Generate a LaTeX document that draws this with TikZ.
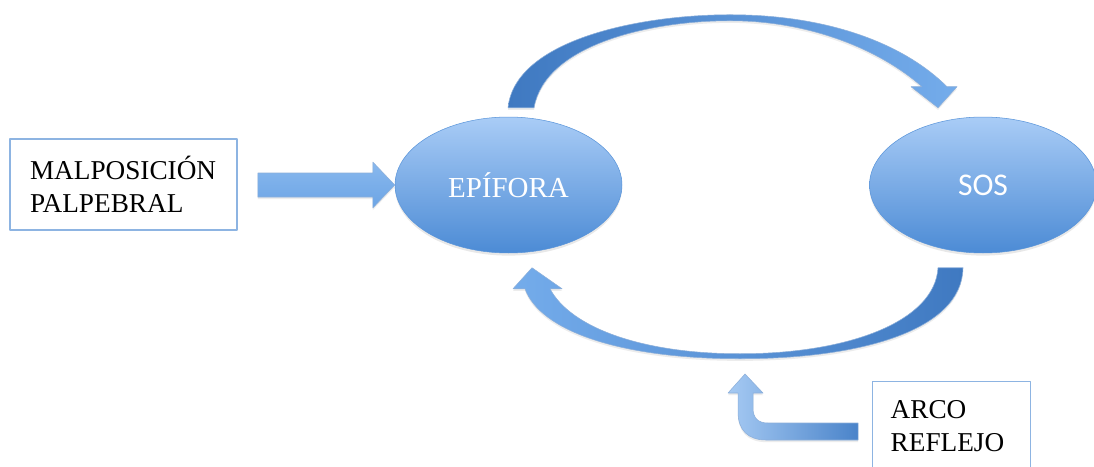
\documentclass[tikz,border=0pt]{standalone}
\usepackage{fontspec}
\setmainfont{Liberation Serif}
\newfontfamily\ovalsans{Carlito}
\usepackage{tikz}
\usetikzlibrary{calc,shapes.geometric,shadows}
\definecolor{ovaltop}{HTML}{A9CCF6}
\definecolor{ovalbottom}{HTML}{4C8BD5}
\definecolor{arrowdark}{HTML}{3F79C1}
\definecolor{arrowlight}{HTML}{74ACEB}
\definecolor{arrowpale}{HTML}{A6CAF3}
\definecolor{boxline}{HTML}{8DB4E2}
\tikzset{
every picture/.style={line join=round},
oval node/.style={
  ellipse,
  minimum width=4.54cm,
  minimum height=2.72cm,
  top color=ovaltop,
  bottom color=ovalbottom,
  draw=ovalbottom!85!ovaltop,
  line width=0.3pt,
  text=white,
  drop shadow={opacity=0.18,shadow xshift=0pt,shadow yshift=-1.5pt}
},
label box/.style={
  draw=boxline,
  line width=0.8pt,
  fill=white,
  align=left,
  text=black,
  font=\fontsize{15.5}{19}\selectfont
},
block arrow/.style={
  draw=arrowdark!60!white,
  line width=0.3pt,
  drop shadow={opacity=0.15,shadow xshift=0pt,shadow yshift=-1.2pt}
}
}

\begin{document}
\begin{tikzpicture}[x=0.02cm,y=-0.02cm]
\useasboundingbox (0,0) rectangle (1094,466);
\fill[white] (0,0) rectangle (1094,466);

\node[label box,text width=3.74cm,inner xsep=0.4cm,minimum height=1.82cm] (malpos) at (123.5,184.5) {MALPOSICIÓN\\PALPEBRAL};
\node[oval node,font=\fontsize{16.5}{20}\selectfont] (epifora) at (508.5,185) {EPÍFORA};
\node[oval node,font=\ovalsans\fontsize{18}{22}\selectfont] (sos) at (983,185) {SOS};
\node[label box,anchor=north west,text width=2.44cm,inner xsep=0.36cm,inner ysep=0.37cm] (arco) at (872,381) {ARCO\\REFLEJO};

\begin{scope}[shift={(epifora.west)}]
\path[block arrow,top color=arrowlight!85!white,bottom color=arrowlight!85!arrowdark]
  (0,0) -- (-22,-23) -- (-22,-12) -- (-137,-12) -- (-137,12) -- (-22,12) -- (-22,23) -- cycle;
\end{scope}

\begin{scope}[shift={(epifora.north)}]
\path[block arrow,left color=arrowdark,right color=arrowlight]
  (-0.5,-9) .. controls (6.5,-77) and (131.5,-102) .. (221.5,-102)
  .. controls (321.5,-102) and (396.5,-72) .. (438.5,-30)
  -- (448.5,-30) -- (429.5,-9) -- (402.5,-30) -- (413.5,-30)
  .. controls (371.5,-67) and (301.5,-96) .. (221.5,-96)
  .. controls (141.5,-96) and (36.5,-72) .. (25.5,-9) -- cycle;
\end{scope}

\begin{scope}[shift={(sos.south)}]
\path[block arrow,left color=arrowlight,right color=arrowdark]
  (-20,14.5) .. controls (-21,77.5) and (-123,105.5) .. (-243,105.5)
  .. controls (-363,105.5) and (-443,77.5) .. (-458,35.5)
  -- (-470,35.5) -- (-451,14.5) -- (-421,35.5) -- (-433,35.5)
  .. controls (-413,73.5) and (-343,100.5) .. (-243,100.5)
  .. controls (-133,100.5) and (-48,67.5) .. (-45,14.5) -- cycle;
\end{scope}

\begin{scope}[shift={(arco.north west)}]
\path[block arrow,left color=arrowpale,right color=arrowdark!80!arrowlight]
  (-14,42) -- (-104,42) .. controls (-114,42) and (-119,37) .. (-119,27)
  -- (-119,12) -- (-109,12) -- (-127,-7) -- (-144,12) -- (-134,12)
  -- (-134,31) .. controls (-134,49) and (-124,59) .. (-106,59)
  -- (-14,59) -- cycle;
\end{scope}
\end{tikzpicture}
\end{document}
